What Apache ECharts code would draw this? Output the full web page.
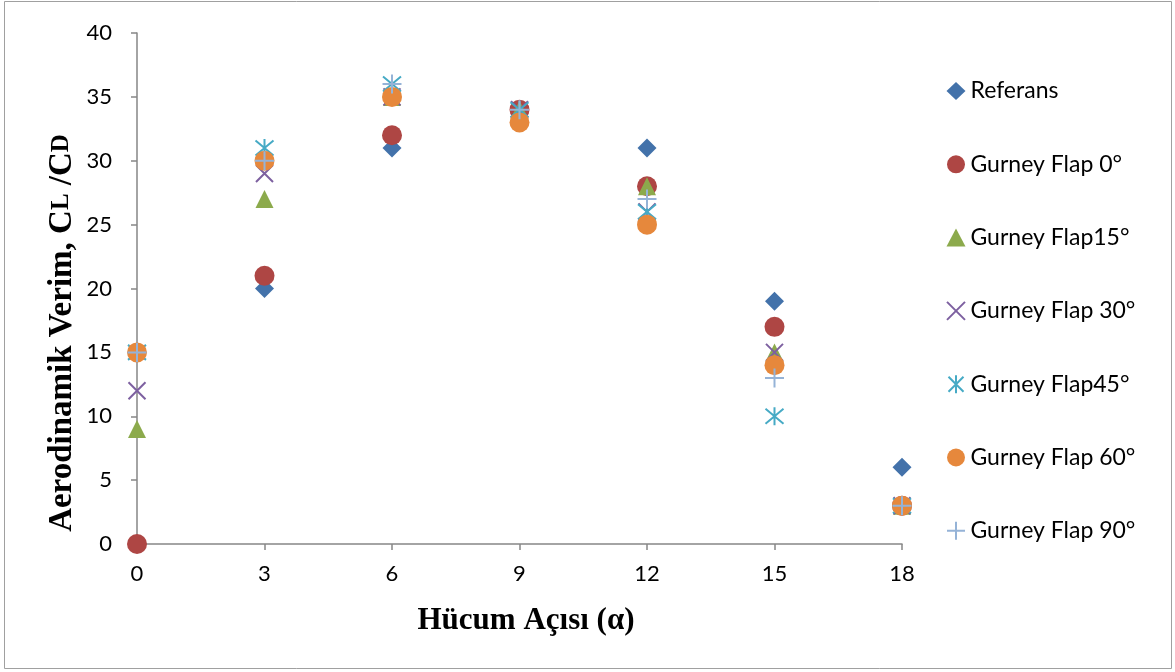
<!DOCTYPE html>
<html><head><meta charset="utf-8">
<script src="https://cdn.jsdelivr.net/npm/echarts@6/dist/echarts.min.js"></script>
<style>html,body{margin:0;padding:0;background:#fff}#c{width:1175px;height:672px}</style>
</head><body><div id="c"></div>
<script>
const angles = [0, 3, 6, 9, 12, 15, 18];
const xTicks = [0, 3, 6, 9, 12, 15, 18];
const seriesNames = ['Referans', 'Gurney Flap 0°', 'Gurney Flap15°', 'Gurney Flap 30°', 'Gurney Flap45°', 'Gurney Flap 60°', 'Gurney Flap 90°'];
const referans = [15, 20, 31, 34, 31, 19, 6];
const gf0 = [0, 21, 32, 34, 28, 17, 3];
const gf15 = [9, 27, 35, 34, 28, 15, 3];
const gf30 = [12, 29, 35, 34, 26, 15, 3];
const gf45 = [15, 31, 36, 34, 26, 10, 3];
const gf60 = [15, 30, 35, 33, 25, 14, 3];
const gf90 = [15, 30, 36, 34, 27, 13, 3];

const values = [referans, gf0, gf15, gf30, gf45, gf60, gf90];
const colors = ['#4372AA', '#AE4644', '#8CAA4C', '#7D60A0', '#46AAC5', '#E6883C', '#95B3D7'];
const X_PATH = 'path://M0,0L10,10M10,0L0,10';
const AST_PATH = 'path://M0,0L10,10M10,0L0,10M5,-1L5,11';
const PLUS_PATH = 'path://M5,0L5,10M0,5L10,5';
const symbols = ['diamond', 'circle', 'triangle', X_PATH, AST_PATH, 'circle', PLUS_PATH];
const sizes = [19, 20, 18, 17, 18, 20, 19];
const strokeOnly = [false, false, false, true, true, false, true];

const chart = echarts.init(document.getElementById('c'));
const series = seriesNames.map((n, i) => ({
  name: n,
  type: 'scatter',
  data: angles.map((a, j) => [a, values[i][j]]),
  symbol: symbols[i],
  symbolSize: sizes[i],
  itemStyle: strokeOnly[i]
    ? { color: 'rgba(0,0,0,0)', borderColor: colors[i], borderWidth: 2, opacity: 1 }
    : { color: colors[i], opacity: 1 },
  emphasis: { disabled: true }
}));

chart.setOption({
  animation: false,
  backgroundColor: '#fff',
  grid: { left: 137, right: 273, top: 33, bottom: 128 },
  xAxis: {
    type: 'value', min: 0, max: 18, interval: 3,
    axisLine: { lineStyle: { color: '#868686', width: 1.5 } },
    axisTick: { show: true, length: 6, lineStyle: { color: '#868686', width: 1.5 } },
    splitLine: { show: false },
    axisLabel: { fontFamily: 'Lato', fontSize: 22, color: '#000', margin: 19,
      formatter: v => xTicks.indexOf(v) >= 0 ? String(v) : '' },
    splitNumber: 6
  },
  yAxis: {
    type: 'value', min: 0, max: 40, interval: 5,
    axisLine: { show: true, lineStyle: { color: '#868686', width: 1.5 } },
    axisTick: { show: true, length: 6, lineStyle: { color: '#868686', width: 1.5 } },
    splitLine: { show: false },
    axisLabel: { fontFamily: 'Lato', fontSize: 22, color: '#000', margin: 25 }
  },
  legend: {
    orient: 'vertical', left: 941, top: 74,
    itemWidth: 19, itemHeight: 18, itemGap: 49.3,
    textStyle: { fontFamily: 'Lato', fontSize: 23, color: '#000', lineHeight: 24 },
    data: seriesNames
  },
  graphic: [
    { type: 'rect', shape: { x: 4.5, y: 1.5, width: 1167, height: 667 }, style: { fill: 'none', stroke: '#a0a0a0', lineWidth: 1 }, silent: true, z: -1 },
    { type: 'text', x: 526, y: 621,
      style: { text: 'Hücum Açısı (α)', textAlign: 'center', textVerticalAlign: 'middle',
        font: 'bold 31px "Liberation Serif"', fill: '#000' } },
    { type: 'text', x: 62, y: 333, rotation: Math.PI / 2,
      style: {
        text: '{b|Aerodinamik Verim, C}{s|L}{b| /C}{s|D}',
        textAlign: 'center', textVerticalAlign: 'middle',
        rich: {
          b: { fontFamily: 'Liberation Serif', fontWeight: 'bold', fontSize: 33, fill: '#000' },
          s: { fontFamily: 'Liberation Serif', fontWeight: 'bold', fontSize: 25, fill: '#000' }
        }
      } }
  ],
  series: series
});
</script></body></html>
